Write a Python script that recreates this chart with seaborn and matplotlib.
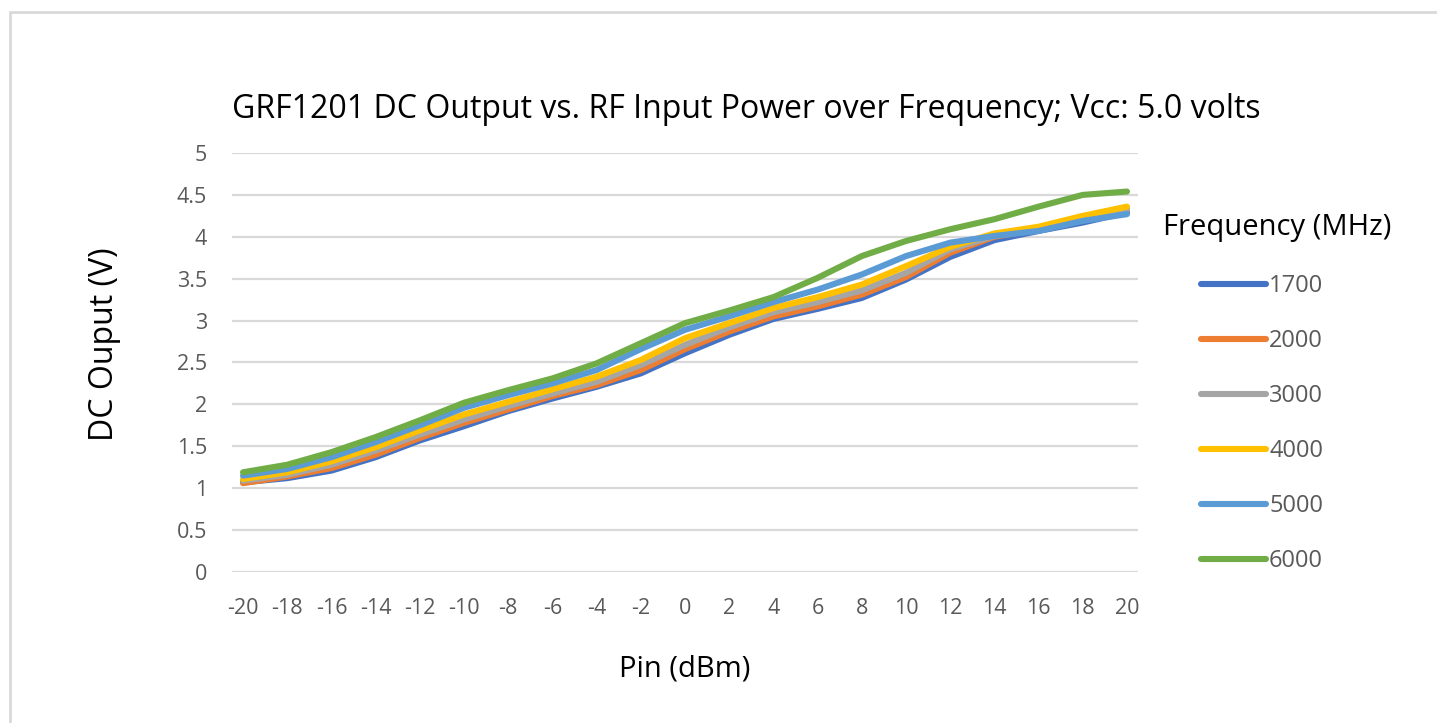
import numpy as np
import pandas as pd
import matplotlib
matplotlib.use("Agg")
import matplotlib.pyplot as plt
import seaborn as sns
from matplotlib.patches import Rectangle

# input power (dBm), read every 2 dBm
pin = [-20, -18, -16, -14, -12, -10, -8, -6, -4, -2, 0,
       2, 4, 6, 8, 10, 12, 14, 16, 18, 20]

freqs = ["1700", "2000", "3000", "4000", "5000", "6000"]

v_1700 = [1.07, 1.12, 1.21, 1.37, 1.57, 1.74, 1.92, 2.07, 2.21, 2.37, 2.61,
          2.83, 3.02, 3.14, 3.27, 3.49, 3.76, 3.96, 4.07, 4.17, 4.29]
v_2000 = [1.06, 1.14, 1.24, 1.40, 1.60, 1.78, 1.94, 2.10, 2.23, 2.41, 2.66,
          2.87, 3.05, 3.17, 3.31, 3.52, 3.81, 4.00, 4.09, 4.21, 4.33]
v_3000 = [1.09, 1.16, 1.28, 1.45, 1.64, 1.82, 1.98, 2.13, 2.27, 2.47, 2.71,
          2.92, 3.10, 3.22, 3.36, 3.57, 3.85, 4.01, 4.09, 4.22, 4.33]
v_4000 = [1.11, 1.19, 1.32, 1.49, 1.69, 1.88, 2.03, 2.18, 2.33, 2.53, 2.79,
          2.97, 3.15, 3.28, 3.43, 3.65, 3.88, 4.04, 4.12, 4.25, 4.36]
v_5000 = [1.15, 1.23, 1.37, 1.55, 1.75, 1.96, 2.11, 2.25, 2.41, 2.66, 2.89,
          3.05, 3.22, 3.37, 3.55, 3.77, 3.93, 4.01, 4.07, 4.19, 4.27]
v_6000 = [1.19, 1.28, 1.43, 1.61, 1.81, 2.02, 2.17, 2.31, 2.49, 2.73, 2.97,
          3.12, 3.28, 3.51, 3.77, 3.95, 4.09, 4.21, 4.36, 4.50, 4.54]

colors = ["#4472C4", "#ED7D31", "#A5A5A5", "#FFC000", "#5B9BD5", "#70AD47"]

series = [v_1700, v_2000, v_3000, v_4000, v_5000, v_6000]
df = pd.concat([pd.DataFrame({"Pin": pin, "Vout": s, "Frequency": f})
                for f, s in zip(freqs, series)], ignore_index=True)

sns.set_style("white")
plt.rcParams["font.family"] = ["Open Sans", "DejaVu Sans"]
plt.rcParams["axes.unicode_minus"] = False

fig = plt.figure(figsize=(14.37, 7.23), dpi=100)
ax = fig.add_axes([232 / 1437, 151 / 723, 906 / 1437, 419 / 723])

sns.lineplot(data=df, x="Pin", y="Vout", hue="Frequency", hue_order=freqs,
             palette=colors, linewidth=4.4, ax=ax, legend=False,
             solid_capstyle="round", solid_joinstyle="round")

ax.set_xlim(-20.5, 20.5)
ax.set_ylim(0, 5)
ax.set_xticks(np.arange(-20, 21, 2))
ax.set_yticks(np.arange(0, 5.01, 0.5))
ax.set_yticklabels([f"{v:g}" for v in np.arange(0, 5.01, 0.5)])
ax.grid(axis="y", color="#D9D9D9", linewidth=1.6)
ax.set_axisbelow(True)
for sp in ax.spines.values():
    sp.set_visible(False)
ax.tick_params(axis="both", length=0, labelsize=15.5, labelcolor="#595959")
ax.tick_params(axis="x", pad=19)
ax.tick_params(axis="y", pad=18)

ax.set_xlabel("Pin (dBm)", fontsize=21, color="black", labelpad=25)
ax.set_ylabel("DC Ouput (V)", fontsize=23, color="black", labelpad=40)
ax.yaxis.label.set_y(0.544)

# chart title is centred on the whole chart area, not the plot area
fig.text(746 / 1437, 1 - 110 / 723,
         "GRF1201 DC Output vs. RF Input Power over Frequency; Vcc: 5.0 volts",
         fontsize=23, color="black", ha="center", va="center")

# legend
handles = [plt.Line2D([], [], color=c, linewidth=4.4, solid_capstyle="round")
           for c in colors]
leg = fig.legend(handles, freqs, loc="upper left",
                 bbox_to_anchor=(1180 / 1437, 1 - 253 / 723), frameon=False,
                 fontsize=17, handlelength=2.75, handletextpad=0.12,
                 labelspacing=1.31)
for t in leg.get_texts():
    t.set_color("#595959")
fig.text(1163 / 1437, 1 - 228 / 723, "Frequency (MHz)", fontsize=21,
         color="black", va="center", ha="left")

# chart border
fig.patches.append(Rectangle((10 / 1437, -0.1), 1.2, (723 - 12) / 723 + 0.1,
                             transform=fig.transFigure, fill=False,
                             edgecolor="#D9D9D9", linewidth=2))

fig.savefig("out.png", dpi=100, facecolor="white")
